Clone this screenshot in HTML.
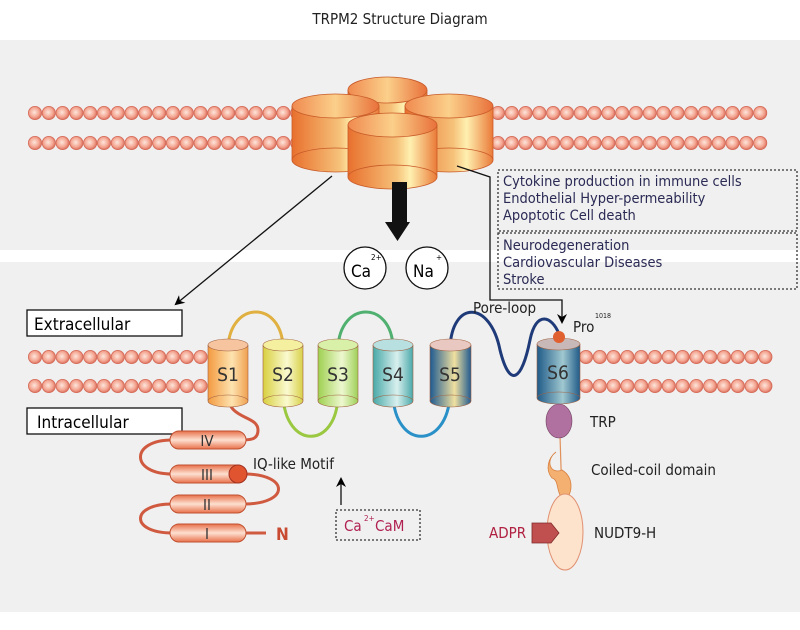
<!DOCTYPE html>
<html><head><meta charset="utf-8"><style>
html,body{margin:0;padding:0;background:#fff;width:800px;height:630px;overflow:hidden}
svg text{font-family:"DejaVu Sans Condensed","Liberation Sans",sans-serif}
</style></head><body>
<svg id="s" width="800" height="630" viewBox="0 0 800 630" xmlns="http://www.w3.org/2000/svg">
<defs>
<radialGradient id="bead" cx="45%" cy="45%" r="55%"><stop offset="0" stop-color="#fde6dc"/><stop offset="0.65" stop-color="#f4a692"/><stop offset="1" stop-color="#dc7260"/></radialGradient>
<linearGradient id="cylO" x1="0" x2="1"><stop offset="0" stop-color="#e8702e"/><stop offset="0.55" stop-color="#f6c27a"/><stop offset="0.7" stop-color="#fff0b0"/><stop offset="1" stop-color="#ea7a38"/></linearGradient>
<linearGradient id="topO" x1="0" x2="1"><stop offset="0" stop-color="#f08a50"/><stop offset="0.5" stop-color="#fbd08a"/><stop offset="1" stop-color="#e8703a"/></linearGradient>
<linearGradient id="g1" x1="0" x2="1"><stop offset="0" stop-color="#f39a40"/><stop offset="0.6" stop-color="#fde3b0"/><stop offset="1" stop-color="#f0a050"/></linearGradient>
<linearGradient id="g2" x1="0" x2="1"><stop offset="0" stop-color="#d8d040"/><stop offset="0.6" stop-color="#fafad0"/><stop offset="1" stop-color="#d8d048"/></linearGradient>
<linearGradient id="g3" x1="0" x2="1"><stop offset="0" stop-color="#9ed050"/><stop offset="0.6" stop-color="#eef8d0"/><stop offset="1" stop-color="#9ed058"/></linearGradient>
<linearGradient id="g4" x1="0" x2="1"><stop offset="0" stop-color="#48a8a8"/><stop offset="0.6" stop-color="#d8f0ee"/><stop offset="1" stop-color="#4aa8aa"/></linearGradient>
<linearGradient id="g5" x1="0" x2="1"><stop offset="0" stop-color="#1e5a90"/><stop offset="0.6" stop-color="#f0e0a0"/><stop offset="1" stop-color="#205a90"/></linearGradient>
<linearGradient id="g6" x1="0" x2="1"><stop offset="0" stop-color="#1e5a88"/><stop offset="0.6" stop-color="#a0c8d0"/><stop offset="1" stop-color="#205a88"/></linearGradient>
<linearGradient id="cap" x1="0" y1="0" x2="0" y2="1"><stop offset="0" stop-color="#e8704a"/><stop offset="0.5" stop-color="#fde0d0"/><stop offset="1" stop-color="#e8704a"/></linearGradient>
<marker id="ah" markerWidth="10" markerHeight="10" refX="8" refY="5" orient="auto" markerUnits="userSpaceOnUse"><path d="M0,0 L10,5 L0,10 L3,5z" fill="#000"/></marker>
</defs>
<rect x="0" y="40" width="800" height="210" fill="#f0f0f0"/>
<rect x="0" y="262" width="800" height="350" fill="#f0f0f0"/>
<text x="400" y="24" font-size="15" text-anchor="middle" fill="#222">TRPM2 Structure Diagram</text>
<g id="beads"></g>

<!-- channel -->
<g stroke="#c85a28" stroke-width="0.8">
<rect x="348" y="90" width="79" height="40" fill="url(#cylO)"/><ellipse cx="387.5" cy="90" rx="39.5" ry="13" fill="url(#topO)"/>
<rect x="292" y="106" width="87" height="54" fill="url(#cylO)"/><ellipse cx="335.5" cy="160" rx="43.5" ry="12" fill="url(#cylO)"/><ellipse cx="335.5" cy="106" rx="43.5" ry="12" fill="url(#topO)"/>
<rect x="405" y="106" width="88" height="54" fill="url(#cylO)"/><ellipse cx="449" cy="160" rx="44" ry="12" fill="url(#cylO)"/><ellipse cx="449" cy="106" rx="44" ry="12" fill="url(#topO)"/>
<rect x="348" y="125" width="89" height="52" fill="url(#cylO)"/><ellipse cx="392.5" cy="177" rx="44.5" ry="12" fill="url(#cylO)"/><ellipse cx="392.5" cy="125" rx="44.5" ry="12" fill="url(#topO)"/>
</g>
<!-- black arrow -->
<rect x="392" y="182" width="15" height="42" fill="#111"/><path d="M385,222 L410,222 L397.5,241z" fill="#111"/>
<circle cx="365" cy="268" r="21" fill="#fff" stroke="#111" stroke-width="1.3"/><text x="351" y="277" font-size="17">Ca</text><text x="371" y="260" font-size="8">2+</text>
<circle cx="427" cy="268" r="21" fill="#fff" stroke="#111" stroke-width="1.3"/><text x="413" y="277" font-size="17">Na</text><text x="436" y="260" font-size="8">+</text>
<line x1="332" y1="176" x2="176" y2="304" stroke="#111" stroke-width="1.3" marker-end="url(#ah)"/>
<polyline points="457,166 490,177 490,300 562,300 562,322" fill="none" stroke="#111" stroke-width="1.3" marker-end="url(#ah)"/>
<rect x="498" y="170" width="299" height="61" fill="none" stroke="#333" stroke-width="1.3" stroke-dasharray="2,2"/>
<rect x="498" y="233" width="299" height="56" fill="none" stroke="#333" stroke-width="1.3" stroke-dasharray="2,2"/>
<g font-size="14.5" fill="#2a2a55"><text x="503" y="186">Cytokine production in immune cells</text><text x="503" y="203">Endothelial Hyper-permeability</text><text x="503" y="220">Apoptotic Cell death</text>
<text x="503" y="250">Neurodegeneration</text><text x="503" y="267">Cardiovascular Diseases</text><text x="503" y="284">Stroke</text></g>

<rect x="27" y="310" width="155" height="26" fill="#fff" stroke="#111" stroke-width="1.3"/><text x="34" y="330" font-size="17">Extracellular</text>
<rect x="27" y="408" width="155" height="26" fill="#fff" stroke="#111" stroke-width="1.3"/><text x="37" y="428" font-size="17">Intracellular</text>

<!-- loops -->
<g fill="none" stroke-width="3">
<path d="M228,348 C230,300 282,300 283,348" stroke="#e0b040"/>
<path d="M283,395 C285,450 337,450 338,395" stroke="#9ac840"/>
<path d="M338,348 C340,300 392,300 393,348" stroke="#50b070"/>
<path d="M393,395 C395,450 447,450 450,395" stroke="#2a90c8"/>
<path d="M450,348 C452,300 490,300 500,350 C510,390 522,380 530,340 C536,310 552,316 559,334" stroke="#1e3a78"/>
<path d="M228,395 C228,420 258,415 258,430 C258,440 250,440 240,440" stroke="#d05a40"/>
<path d="M172,440 C130,440 130,474 172,474" stroke="#d05a40"/>
<path d="M244,474 C290,474 290,504 244,504" stroke="#d05a40"/>
<path d="M172,504 C130,504 130,533 172,533" stroke="#d05a40"/>
<line x1="244" y1="533" x2="266" y2="533" stroke="#d05a40"/>
</g>
<!-- cylinders -->
<g stroke="#a06040" stroke-width="0.6" font-size="19" text-anchor="middle">
<g><rect x="208" y="345" width="40" height="56" fill="url(#g1)"/><ellipse cx="228" cy="401" rx="20" ry="6" fill="url(#g1)"/><ellipse cx="228" cy="345" rx="20" ry="6" fill="#f7c4a0"/><text x="228" y="381" stroke="none" fill="#333">S1</text></g>
<g><rect x="263" y="345" width="40" height="56" fill="url(#g2)"/><ellipse cx="283" cy="401" rx="20" ry="6" fill="url(#g2)"/><ellipse cx="283" cy="345" rx="20" ry="6" fill="#f4f0a0"/><text x="283" y="381" stroke="none" fill="#333">S2</text></g>
<g><rect x="318" y="345" width="40" height="56" fill="url(#g3)"/><ellipse cx="338" cy="401" rx="20" ry="6" fill="url(#g3)"/><ellipse cx="338" cy="345" rx="20" ry="6" fill="#d8f0a8"/><text x="338" y="381" stroke="none" fill="#333">S3</text></g>
<g><rect x="373" y="345" width="40" height="56" fill="url(#g4)"/><ellipse cx="393" cy="401" rx="20" ry="6" fill="url(#g4)"/><ellipse cx="393" cy="345" rx="20" ry="6" fill="#b8e0e0"/><text x="393" y="381" stroke="none" fill="#333">S4</text></g>
<g><rect x="430" y="345" width="41" height="56" fill="url(#g5)"/><ellipse cx="450.5" cy="401" rx="20.5" ry="6" fill="url(#g5)"/><ellipse cx="450.5" cy="345" rx="20.5" ry="6" fill="#e8c8c0"/><text x="450" y="381" stroke="none" fill="#333">S5</text></g>
<g><rect x="537" y="344" width="43" height="54" fill="url(#g6)"/><ellipse cx="558.5" cy="398" rx="21.5" ry="6" fill="url(#g6)"/><ellipse cx="558.5" cy="344" rx="21.5" ry="6" fill="#c8b8b8"/><text x="558" y="379" stroke="none" fill="#333">S6</text></g>
</g>
<circle cx="559" cy="337" r="6" fill="#e06030"/>
<text x="473" y="313" font-size="15" fill="#222">Pore-loop</text>
<text x="573" y="332" font-size="15" fill="#222">Pro</text><text x="595" y="318" font-size="7" fill="#222">1018</text>
<!-- C-term -->
<line x1="559" y1="405" x2="564" y2="560" stroke="#e0905a" stroke-width="1.2"/>
<ellipse cx="559" cy="421" rx="13" ry="17" fill="#b070a0" stroke="#704060" stroke-width="0.6"/>
<text x="590" y="427" font-size="15" fill="#222">TRP</text>
<path d="M556,452 C545,460 550,475 562,470 C575,478 572,495 565,500 C555,495 560,480 552,478 C545,470 548,458 556,452z" fill="#f4b070" stroke="#d88040" stroke-width="0.8"/>
<text x="591" y="475" font-size="15" fill="#222">Coiled-coil domain</text>
<ellipse cx="565" cy="532" rx="18" ry="38" fill="#fde2cc" stroke="#e09070" stroke-width="1"/>
<path d="M532,523 L551,523 L559,533 L551,543 L532,543z" fill="#c05050" stroke="#802a2a" stroke-width="0.8"/>
<text x="489" y="538" font-size="15" fill="#b02040">ADPR</text>
<text x="594" y="538" font-size="15" fill="#222">NUDT9-H</text>
<!-- capsules -->
<g stroke="#c05030" stroke-width="1" font-size="15" text-anchor="middle" fill="#333">
<rect x="170" y="431" width="76" height="18" rx="9" fill="url(#cap)"/><text x="207" y="446" stroke="none">IV</text>
<rect x="170" y="465" width="76" height="18" rx="9" fill="url(#cap)"/><text x="207" y="480" stroke="none">III</text>
<rect x="170" y="495" width="76" height="18" rx="9" fill="url(#cap)"/><text x="207" y="510" stroke="none">II</text>
<rect x="170" y="524" width="76" height="18" rx="9" fill="url(#cap)"/><text x="207" y="539" stroke="none">I</text>
</g>
<circle cx="238" cy="474" r="9" fill="#e05530" stroke="#a03020"/>
<text x="276" y="540" font-size="17" font-weight="bold" fill="#c84a30">N</text>
<text x="253" y="469" font-size="15" fill="#222">IQ-like Motif</text>
<line x1="341" y1="505" x2="341" y2="479" stroke="#111" stroke-width="1.3" marker-end="url(#ah)"/>
<rect x="336" y="510" width="84" height="30" fill="none" stroke="#333" stroke-width="1.3" stroke-dasharray="2,2"/>
<text x="344" y="531" font-size="15" fill="#b02050">Ca</text><text x="364" y="521" font-size="8" fill="#b02050">2+</text><text x="375" y="531" font-size="15" fill="#b02050">CaM</text>
</svg>
<script>
var g=document.getElementById('beads'),ns='http://www.w3.org/2000/svg';
function row(x0,x1,y){for(var x=x0;x<=x1;x+=13.8){var c=document.createElementNS(ns,'circle');c.setAttribute('cx',x);c.setAttribute('cy',y);c.setAttribute('r',6.6);c.setAttribute('fill','url(#bead)');c.setAttribute('stroke','#d46a58');c.setAttribute('stroke-width','0.8');g.appendChild(c);}}
row(35,300,113);row(35,300,143);row(498,770,113);row(498,770,143);
row(35,208,357);row(35,208,386);row(586,770,357);row(586,770,386);
</script>
</body></html>
